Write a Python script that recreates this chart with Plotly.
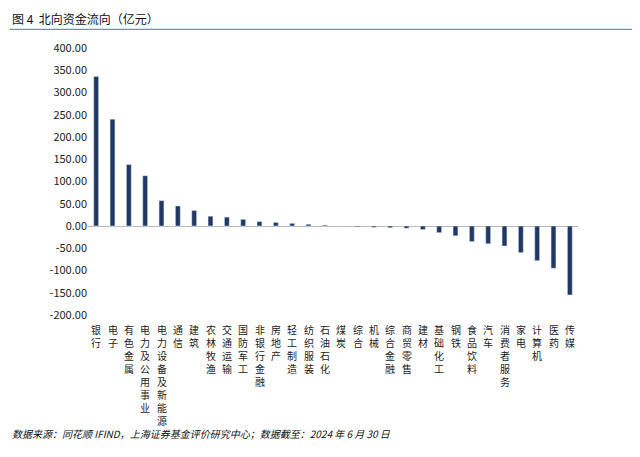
import plotly.graph_objects as go

industries = ["银行", "电子", "有色金属", "电力及公用事业", "电力设备及新能源", "通信", "建筑",
              "农林牧渔", "交通运输", "国防军工", "非银行金融", "房地产", "轻工制造", "纺织服装",
              "石油石化", "煤炭", "综合", "机械", "综合金融", "商贸零售", "建材", "基础化工",
              "钢铁", "食品饮料", "汽车", "消费者服务", "家电", "计算机", "医药", "传媒"]
flows = [336, 240, 138, 113, 57, 45, 35, 22, 20, 15, 10, 8, 6, 4, 2,
         -1, -2, -3, -4, -5, -8, -15, -22, -35, -40, -45, -60, -78, -95, -155]
yticks = [400, 350, 300, 250, 200, 150, 100, 50, 0, -50, -100, -150, -200]

font = "Noto Sans CJK SC"
fig = go.Figure(go.Bar(x=industries, y=flows, marker_color="#1f3864", width=0.3))

for name in industries:
    fig.add_annotation(x=name, y=-0.02, yref="paper", text="<br>".join(name), showarrow=False,
                       yanchor="top", font=dict(size=10, color="#222", family=font))

fig.update_layout(
    width=640, height=457, margin=dict(l=80, r=70, t=40, b=150),
    plot_bgcolor="white", paper_bgcolor="white", showlegend=False,
    font=dict(family=font, size=11, color="#222"),
    xaxis=dict(showticklabels=False, showline=False, ticks=""),
    yaxis=dict(range=[-200, 400], tickvals=yticks, ticktext=[f"{v:.2f}" for v in yticks],
               showgrid=False, zeroline=True, zerolinecolor="#bbb", zerolinewidth=1),
)
fig.add_annotation(xref="paper", yref="paper", x=-0.16, y=1.07, xanchor="left", yanchor="bottom",
                   text="图 4  北向资金流向（亿元）", showarrow=False,
                   font=dict(size=12, color="#111", family=font))
fig.add_shape(type="line", xref="paper", yref="paper", x0=-0.16, x1=1.12, y0=1.07, y1=1.07,
              line=dict(color="#4472c4", width=1))
fig.add_annotation(xref="paper", yref="paper", x=-0.16, y=-0.41, xanchor="left", yanchor="top",
                   text="<i>数据来源：同花顺 IFIND，上海证券基金评价研究中心；数据截至：2024 年 6 月 30 日</i>",
                   showarrow=False, font=dict(size=10, color="#111", family=font))
fig.write_html("out.html")
